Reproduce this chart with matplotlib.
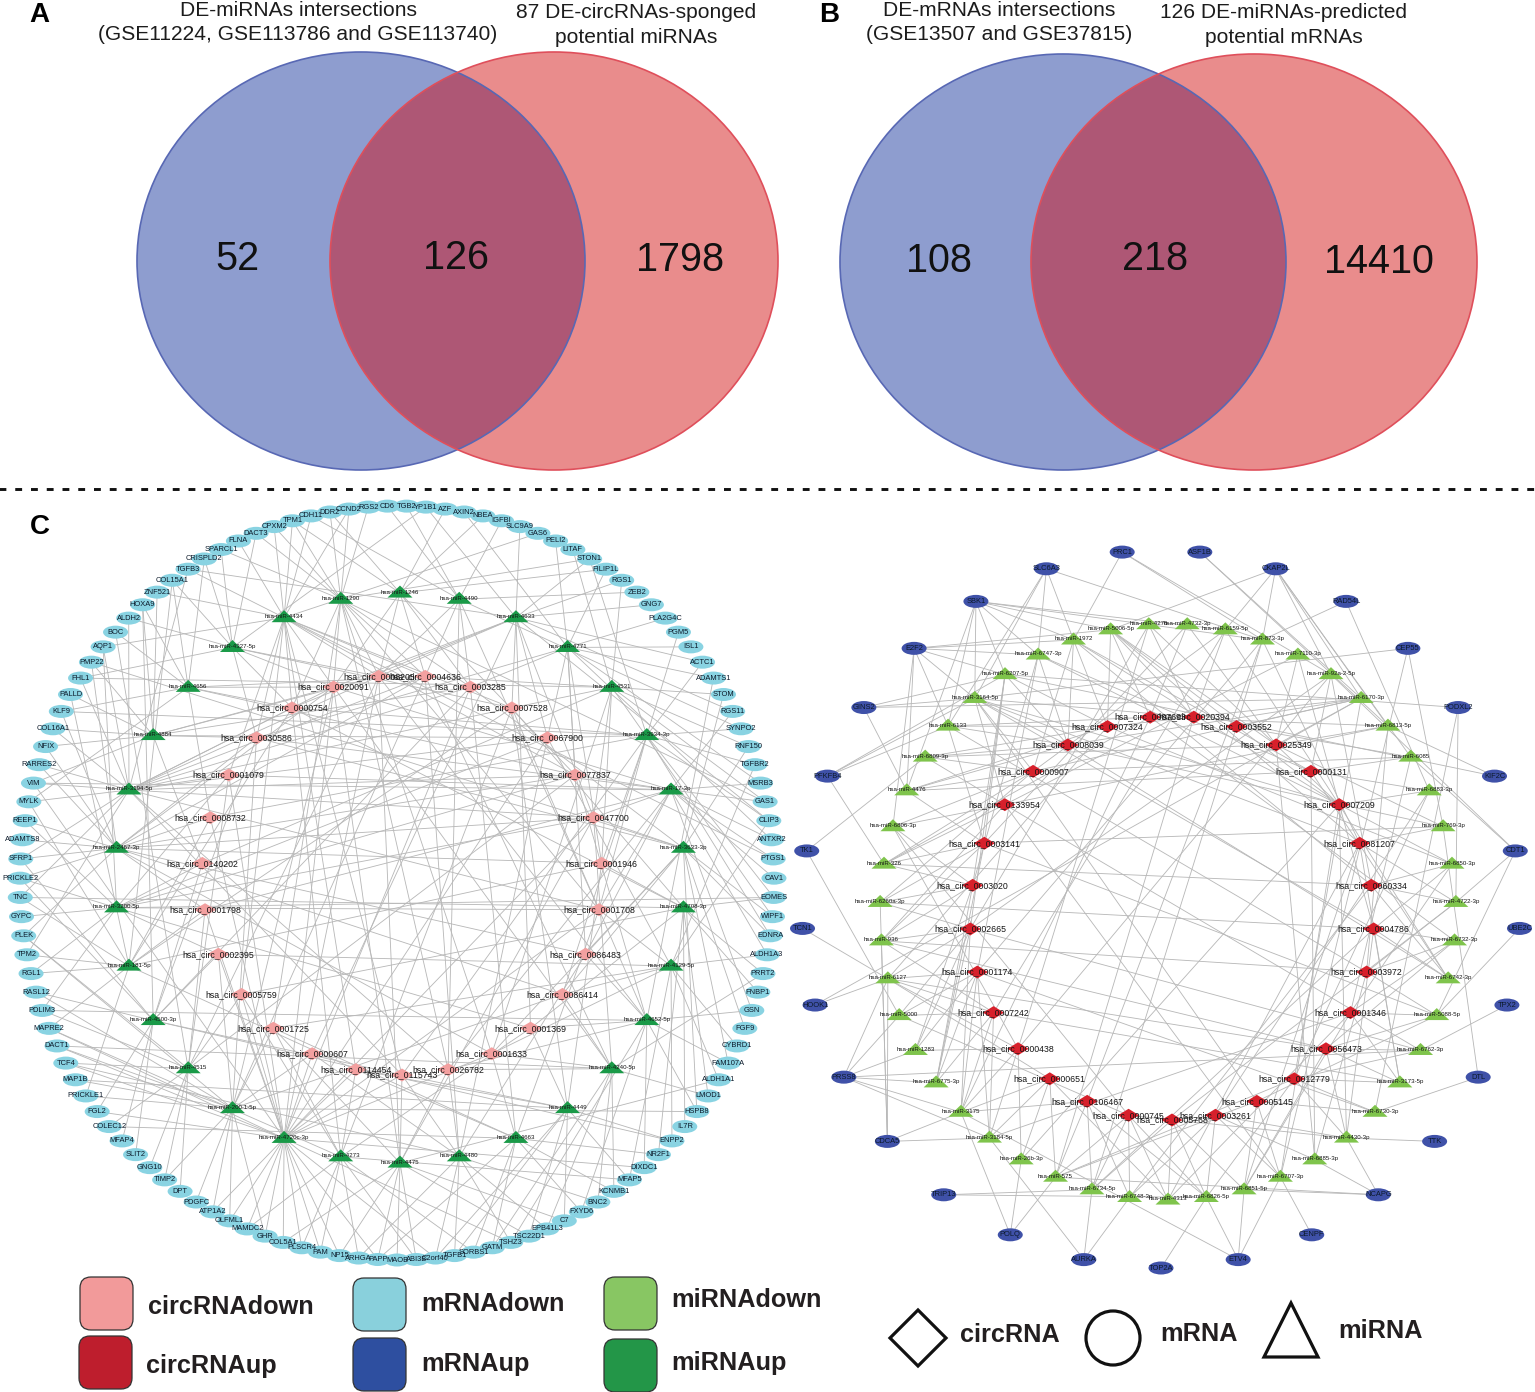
import numpy as np
import matplotlib
matplotlib.use("Agg")
import matplotlib.pyplot as plt
from matplotlib.patches import Ellipse, Polygon, FancyBboxPatch
from matplotlib.collections import LineCollection

plt.rcParams['font.family'] = ['Liberation Sans', 'DejaVu Sans']

# ---------- data ----------
venn_a_counts = ["52", "126", "1798"]
venn_b_counts = ["108", "218", "14410"]
venn_a_titles = ["DE-miRNAs intersections\n(GSE11224, GSE113786 and GSE113740)",
                 "87 DE-circRNAs-sponged\npotential miRNAs"]
venn_b_titles = ["DE-mRNAs intersections\n(GSE13507 and GSE37815)",
                 "126 DE-miRNAs-predicted\npotential mRNAs"]

left_mrna = """CD6 TGB2 YP1B1 AZF AXIN2 NBEA IGFBI SLC9A9 GAS6 PELI2 LITAF STON1 FILIP1L RGS1 ZEB2 GNG7 PLA2G4C PGM5 ISL1 ACTC1
ADAMTS1 STOM RGS11 SYNPO2 RNF150 TGFBR2 MSRB3 GAS1 CLIP3 ANTXR2 PTGS1 CAV1 EOMES WIPF1 EDNRA ALDH1A3 PRRT2 FNBP1 GSN FGF9
CYBRD1 FAM107A ALDH1A1 LMOD1 HSPB8 IL7R ENPP2 NR2F1 DIXDC1 MFAP5 KCNMB1 BNC2 FXYD6 C7 EPB41L3 TSC22D1 TSHZ3 GATM SORBS1 TGFB1
C2orf40 ABI3B MAOB PAPP ARHGA NP15 PAM PLSCR4 COL5A1 GHR MAMDC2 OLFML1 ATP1A2 PDGFC DPT TIMP2 GNG10 SLIT2 MFAP4 COLEC12
FGL2 PRICKLE1 MAP1B TCF4 DACT1 MAPRE2 PDLIM3 RASL12 RGL1 TPM2 PLEK GYPC TNC PRICKLE2 SFRP1 ADAMTS8 REEP1 MYLK VIM RARRES2
NFIX COL16A1 KLF9 PALLD FHL1 PMP22 AQP1 BOC ALDH2 HOXA9 ZNF521 COL15A1 TGFB3 CRISPLD2 SPARCL1 FLNA DACT3 CPXM2 TPM1 CDH11
DDR2 CCND2 RGS2""".split()

left_mir = ["1246", "4490", "4633", "4771", "4531", "3934-3p", "17-3p", "3633-3p", "4708-3p", "4129-5p",
            "4652-5p", "4240-5p", "4449", "4663", "4480", "4475", "4273", "4720c-3p", "200-1-5p", "4515",
            "4500-3p", "181-5p", "3200-5p", "2467-3p", "3194-5p", "4884", "4656", "4327-5p", "4434", "1290"]

left_circ = ["0008205", "0004636", "0003285", "0007528", "0067900", "0077837", "0047700", "0001946", "0001708",
             "0086483", "0086414", "0001369", "0001633", "0026782", "0115743", "0114454", "0000607", "0001725",
             "0005759", "0002395", "0001798", "0140202", "0008732", "0001079", "0030586", "0000754", "0020091"]

left_mir_mrna = [[5,118,3,12,120],[0,1,6,14,23,119],[2,7,11,13,15,19,22,28,112],[4,9,12,16,18,20,26,29],
    [10,13,21,24,33,27,104],[11,17,19,23,25,28,32,102,34],[98,22,27,30,35,38,29,31,26],[21,24,33,39,41,34,44,105],
    [32,36,37,43,45,92,47],[28,35,40,42,46,49,25],[20,38,44,48,52,56,41,86],[36,43,50,51,54,84,57],
    [46,49,53,55,59,82,60],[47,52,57,58,63,50,79],[51,54,56,59,60,64,83],[53,55,62,63,65,68,61,42],
    [58,61,64,66,70,67,49,85],[60,63,65,66,67,68,69,70,71,72,80,83,84,85,48,98,56],[69,71,72,73,75,81,82,84,87,44,90],
    [74,76,79,75,83,86,90,107],[77,80,78,87,94,46,93,109],[81,85,89,92,97,88,103,111],[86,88,91,93,96,32,106],
    [90,93,94,95,96,100,102,99,105],[89,92,94,97,98,99,101,104,106,108,112],[100,101,103,105,110,98,109],
    [102,107,111,109,113,97],[104,108,113,114,116,2,111],[106,110,115,117,119,121,118,112,8,30],
    [114,116,118,120,121,122,117,11,27]]

left_mir_circ = [[26,0,1,5,2],[1,2,8,0,13],[0,3,4,6,11,26,25,16],[2,5,4,7,24,9],[3,6,7,1,21,12],[4,7,8,22,10,25,14],
    [5,9,8,23,26,6,20,13,24],[6,10,9,2,24,12],[7,11,3,25,18],[10,8,12,4,19,17],[9,11,13,5,0,3],[12,10,13,1,26,6],
    [11,14,3,15,7],[12,15,8,2,17],[13,14,16,4,1,9],[14,13,17,0,6,26],[15,17,18,3,25,11],
    [16,15,14,18,19,20,0,26,2,4,8,23,22,12,6],[17,19,16,24,26,1,10],[18,20,23,0,5],[19,21,24,2,14],[20,22,25,3,15,7],
    [21,23,19,4,8,6,11,5],[22,24,20,26,6,7,9,5,10,1,12],[23,25,0,1,26,3,5,6,8,4,13,14,2],[24,26,0,2,4,21],
    [25,26,22,1,5],[25,26,0,3,24],[26,0,25,24,1,23,3,15,5,14,18],[26,0,1,2,25,8,17,12,13]]

right_mrna = ["PRC1", "ASF1B", "CKAP2L", "RAD54L", "CEP55", "PODXL2", "KIF2C", "CDT1", "UBE2C", "TPX2", "DTL", "TTK",
              "NCAPG", "CENPF", "ETV4", "TOP2A", "AURKA", "POLQ", "TRIP13", "CDCA5", "PRSS8", "HOOK1", "TCN1", "TK1",
              "PFKFB4", "GINS2", "E2F2", "SBK1", "SLC6A3"]

right_mir = ["4276", "4732-3p", "6159-5p", "873-3p", "7110-3p", "92a-2-5p", "6170-3p", "6813-5p", "6085", "6883-3p",
             "769-3p", "6850-3p", "4722-3p", "6732-3p", "6742-3p", "5088-5p", "6762-3p", "3173-5p", "6730-3p",
             "4430-3p", "6885-3p", "6707-3p", "6851-5p", "6826-5p", "4313", "6748-3p", "6734-5p", "575", "26b-3p",
             "3184-5p", "3175", "6775-3p", "1283", "5000", "6127", "936", "6260a-3p", "326", "6806-3p", "4476",
             "6809-3p", "6133", "3164-5p", "6207-5p", "6747-3p", "1972", "5006-5p"]

right_circ = ["0007693", "0020394", "0003552", "0025349", "0000131", "0007209", "0081207", "0060334", "0004786",
              "0003972", "0001346", "0056473", "0012779", "0005145", "0003261", "0005768", "0000745", "0106467",
              "0000651", "0000438", "0007242", "0001174", "0002665", "0003020", "0003141", "0133954", "0000907",
              "0008039", "0007324"]

right_mrna_mir = [[45,5,3],[6,7],[2,3,5,6,7,8,46],[3,9],[10,21,42],[43,18,12],[7,43],[8,5,12,15],[15],[16],[18,10],[19],
    [19,20,22,27],[21],[21,23,22,30],[23],[29,25,26],[30,27,28],[26,23],[29,30,35,34,36],[29,33,32,31,30,34,16],
    [34,6],[34],[40,33],[41,42,43,37],[42,43,39,6],[45,44,43,42,39,38,46,41],[46,45,44,43,42,41,39,3,2],[45,44,42,41,3]]

right_mir_circ = [[1,22,5,19],[0,3,24],[1,20,26,5],[2,17,21,6],[3,8,25],[4,22,19,7],[2,26,3,27,28,12],[3,25,0,9],
    [4,2,10,26],[5,4,12,14],[6,3,24,27],[7,8,5,28,10],[7,6,9,15],[8,9,10,11,0],[8,7,5,27,4],[10,11,9,13,24],[11,12,25,22],
    [11,12,8,6,20,10],[12,13,21],[12,11,14,5,16,8],[9,4,3,14],[14,13,5,25],[15,13,6,10,11],[15,16,14,17,12],[15,16,18,10,6],
    [16,17,14,7],[17,16,15,8,2],[17,18,16,12,13,1],[18,19,5],[19,18,20,21,10],[20,21,19,22,18,17,0],[20,21,22,23,24],
    [19,22,21,23],[21,22,20,16],[21,20,22,19,18,11,28],[23,24,20,25,22,9,11],[22,23,24,26,8],[23,24,0,25,26,7],
    [23,25,16,26,19],[24,26,27,4,28],[25,26,27,28,3],[24,27,28,0,9],[26,25,27,1,5,6,8,13],[27,28,24,23,22],[27,4,5,21,23],
    [26,28,27,5,7,4],[28,0,1,3,5,6]]

legend_colors = ["#F29A9A", "#BE1E2D", "#89D0DC", "#2E4FA0", "#88C663", "#239648"]
legend_names = ["circRNAdown", "circRNAup", "mRNAdown", "mRNAup", "miRNAdown", "miRNAup"]
shape_names = ["circRNA", "mRNA", "miRNA"]

# ---------- canvas in reference pixels ----------
W, H = 1535, 1392
fig = plt.figure(figsize=(W / 100, H / 100), dpi=100)
ax = fig.add_axes([0, 0, 1, 1])
ax.set_xlim(0, W)
ax.set_ylim(H, 0)
ax.axis("off")

INK = "#1c1c1c"

def venn(cx1, cx2, cy, rx, ry):
    blue = Ellipse((cx1, cy), 2 * rx, 2 * ry, fc="#8E9DCF", ec="none", zorder=1)
    red = Ellipse((cx2, cy), 2 * rx, 2 * ry, fc="#E98C8C", ec="none", zorder=1.1)
    ax.add_patch(blue)
    ax.add_patch(red)
    both = Ellipse((cx1, cy), 2 * rx, 2 * ry, fc="#AE5775", ec="none", zorder=1.2)
    ax.add_patch(both)
    clip = Ellipse((cx2, cy), 2 * rx, 2 * ry, transform=ax.transData)
    both.set_clip_path(clip)
    ax.add_patch(Ellipse((cx1, cy), 2 * rx, 2 * ry, fc="none", ec="#5868B4", lw=1.2, zorder=1.4))
    ax.add_patch(Ellipse((cx2, cy), 2 * rx, 2 * ry, fc="none", ec="#DF4F5B", lw=1.2, zorder=1.5))

venn(361, 554, 261, 224, 209)
venn(1063, 1254, 262, 223, 208)

for (x, y), t in zip([(237, 259), (456, 258), (680, 260)], venn_a_counts):
    ax.text(x, y, t, fontsize=28.5, ha="center", va="center", color="#111111", zorder=5)
for (x, y), t in zip([(939, 261), (1155, 259), (1379, 262)], venn_b_counts):
    ax.text(x, y, t, fontsize=28.5, ha="center", va="center", color="#111111", zorder=5)

for (x, y, t) in zip([298, 636], [22.5, 25], venn_a_titles):
    ax.text(x, y, t, fontsize=15.1, ha="center", va="center", color=INK, linespacing=1.38, zorder=5)
for (x, y, t) in zip([999, 1284], [22.5, 25], venn_b_titles):
    ax.text(x, y, t, fontsize=15.1, ha="center", va="center", color=INK, linespacing=1.38, zorder=5)

for (x, y, t) in [(39, 15, "A"), (829, 15, "B"), (40, 527, "C")]:
    ax.text(x, y, t, fontsize=20, fontweight="bold", ha="center", va="center", color="black", zorder=5)

ax.plot([-1, W], [488.5, 488.5], color="#111111", lw=2.1, dashes=(2.35, 3.05), zorder=1)

# ---------- networks ----------
def ring(n, cx, cy, r, first):
    a = np.deg2rad(first + np.arange(n) * 360.0 / n)
    return np.column_stack([cx + r * np.sin(a), cy - r * np.cos(a)])

def edges(P, Q, table):
    return [(P[i], Q[j]) for i, row in enumerate(table) for j in row]

def draw_network(mrna, mir, circ, pm, pi, pc, mrna_mir, mir_circ, mir_from_mrna,
                 c_mrna, c_mir, c_circ, mir_fs, mrna_fs, w_e, h_e, w_t, h_t, w_d, h_d):
    segs = edges(pm, pi, mrna_mir) if mir_from_mrna else edges(pi, pm, mrna_mir)
    segs += edges(pi, pc, mir_circ)
    ax.add_collection(LineCollection(segs, colors="#B8B8B8", linewidths=0.62, zorder=2))
    for (x, y), t in zip(pm, mrna):
        ax.add_patch(Ellipse((x, y), w_e, h_e, fc=c_mrna, ec="none", zorder=3))
        ax.text(x, y, t, fontsize=mrna_fs, ha="center", va="center", color="#0c1a2a", zorder=6)
    for (x, y), t in zip(pi, mir):
        ax.add_patch(Polygon([(x, y - h_t * 0.62), (x - w_t / 2, y + h_t * 0.38), (x + w_t / 2, y + h_t * 0.38)],
                             closed=True, fc=c_mir, ec="none", zorder=3))
        ax.text(x, y - 1, "hsa-miR-" + t, fontsize=mir_fs, ha="center", va="center", color="#151515", zorder=6)
    for (x, y), t in zip(pc, circ):
        ax.add_patch(Polygon([(x - w_d / 2, y), (x, y - h_d / 2), (x + w_d / 2, y), (x, y + h_d / 2)],
                             closed=True, fc=c_circ, ec="none", zorder=3))
        ax.text(x, y, "hsa_circ_" + t, fontsize=6.3, ha="center", va="center", color="#151515", zorder=6)

draw_network(left_mrna, left_mir, left_circ,
             ring(len(left_mrna), 397, 883, 377, -0.5 * 360 / len(left_mrna)),
             ring(len(left_mir), 400, 878, 285, 0),
             ring(len(left_circ), 402, 875, 200, -0.5 * 360 / len(left_circ)),
             left_mir_mrna, left_mir_circ, False,
             "#89D3E2", "#1A9A48", "#F3A0A0", 4.4, 5.4, 25, 13, 25, 12, 22, 13)

draw_network(right_mrna, right_mir, right_circ,
             ring(len(right_mrna), 1161, 909, 359, -0.5 * 360 / len(right_mrna)),
             ring(len(right_mir), 1168, 912, 288, -0.5 * 360 / len(right_mir)),
             ring(len(right_circ), 1172, 918, 202, -0.5 * 360 / len(right_circ)),
             right_mrna_mir, right_mir_circ, True,
             "#3F51A8", "#7FC44C", "#D7202B", 4.4, 5.4, 25, 13, 25, 12, 21, 13)

# ---------- colour legend ----------
boxes = [(80, 1277), (79, 1336), (353, 1278), (353, 1338), (604, 1277), (604, 1339)]
label_pos = [(148, 1307), (146, 1366), (421, 1304), (421, 1364), (671, 1300), (671, 1363)]
for (x, y), c in zip(boxes, legend_colors):
    ax.add_patch(FancyBboxPatch((x + 9, y + 9), 35, 35, boxstyle="round,pad=9,rounding_size=11",
                                fc=c, ec="#333333", lw=0.9, zorder=4))
for (x, y), t in zip(label_pos, legend_names):
    ax.text(x, y, t, fontsize=18.2, fontweight="bold", ha="left", va="center", color="#231F20", zorder=5)

# ---------- shape legend ----------
ax.add_patch(Polygon([(890, 1338), (918, 1310), (946, 1338), (918, 1366)], closed=True, fc="white", ec="#111111", lw=2.3, zorder=4))
ax.add_patch(Ellipse((1113, 1338), 54, 54, fc="white", ec="#111111", lw=2.3, zorder=4))
ax.add_patch(Polygon([(1291, 1303), (1264, 1357), (1318, 1357)], closed=True, fc="white", ec="#111111", lw=2.3, zorder=4))
for (x, y), t in zip([(960, 1335), (1160, 1334), (1338, 1331)], shape_names):
    ax.text(x, y, t, fontsize=18.2, fontweight="bold", ha="left", va="center", color="#231F20", zorder=5)

fig.savefig("out.png", dpi=100)
